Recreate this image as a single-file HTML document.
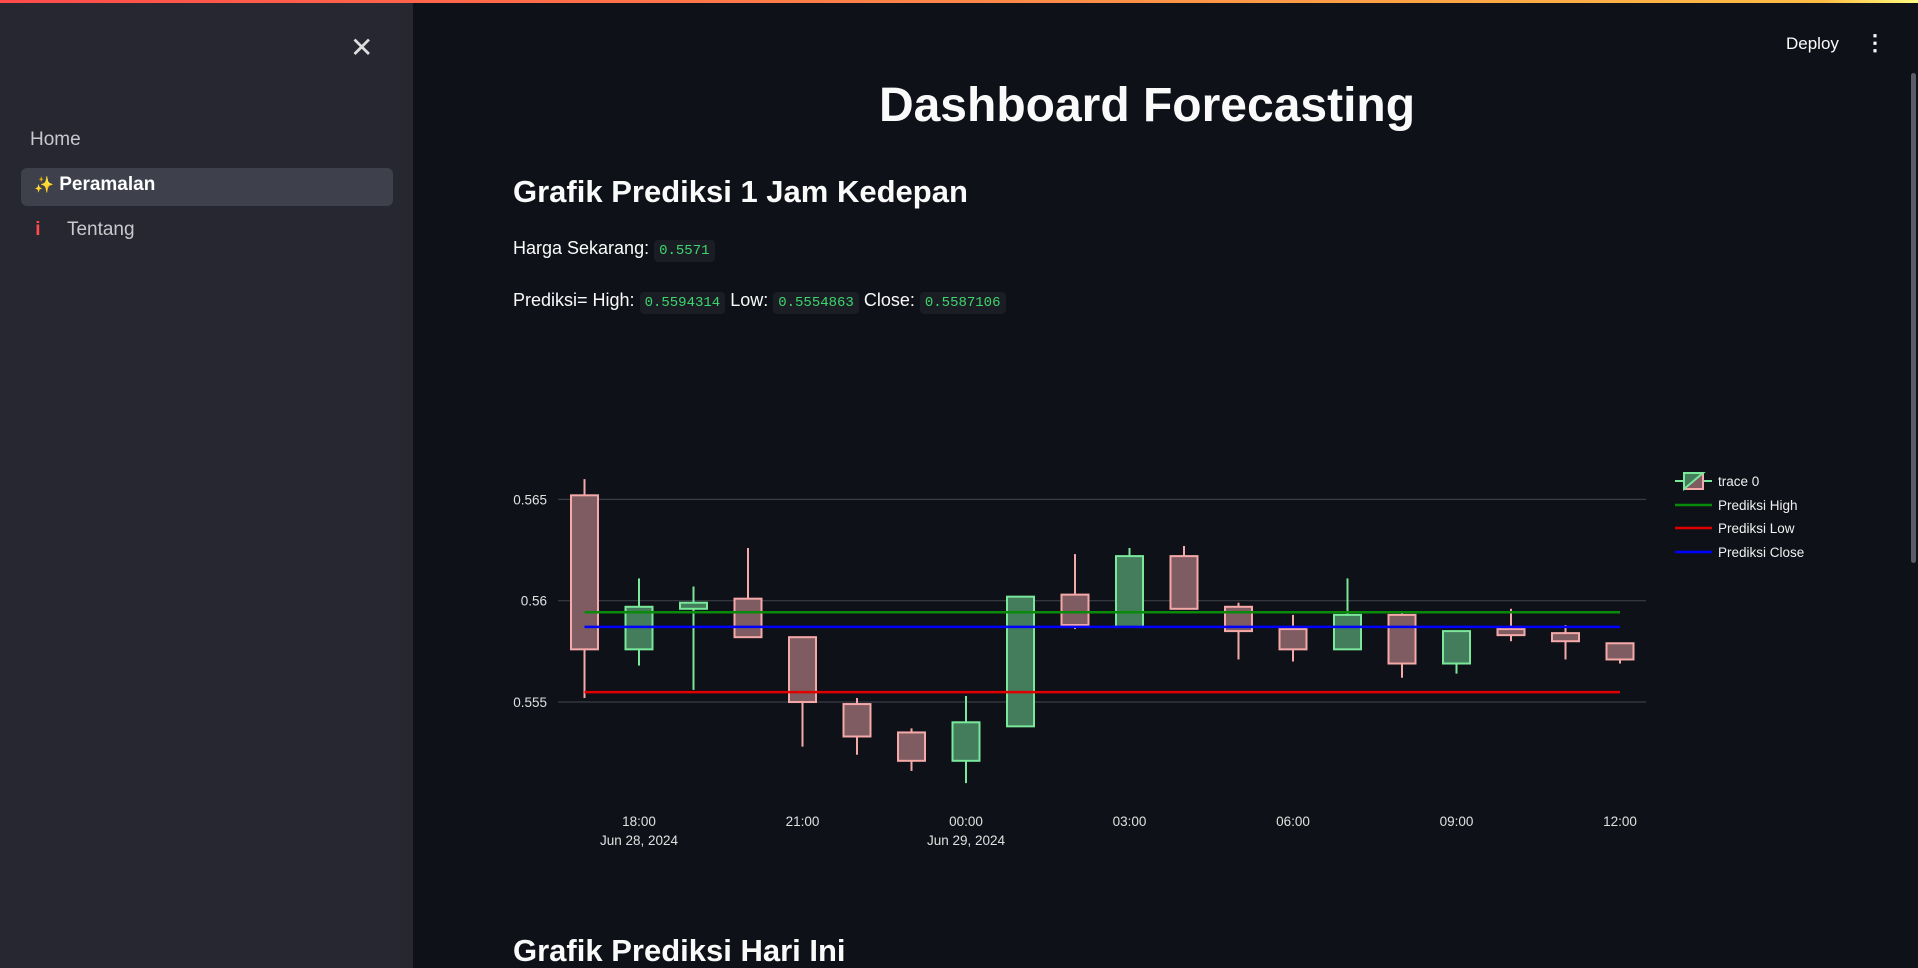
<!DOCTYPE html>
<html style="overflow:hidden;width:1918px;height:968px"><head><meta charset="utf-8"><style>
body{margin:0;width:1918px;height:968px;background:#0e1117;overflow:hidden;font-family:"Liberation Sans",sans-serif;color:#fafafa;position:relative}
#topbar{position:absolute;left:0;top:0;width:1918px;height:3px;background:linear-gradient(90deg,#ff4b4b,#ffbd45 95%,#fffd80)}
#sidebar{position:absolute;left:0;top:3px;width:413px;height:965px;background:#262730}
.nav{position:absolute;left:30px;font-size:19px;color:#c8c9cf}
#active{position:absolute;left:21px;top:165px;width:372px;height:38px;background:#3e404b;border-radius:6px}
.txt{position:absolute;white-space:nowrap}
code{font-family:"Liberation Mono",monospace;font-size:14px;color:#3dd56d;background:#1b1d25;padding:3px 5px;border-radius:4px}
#scroll{position:absolute;left:1911px;top:73px;width:5px;height:490px;background:#5a5c66;border-radius:3px}
</style></head><body>
<div id="topbar"></div>
<div id="sidebar">
 <div class="txt" style="left:350px;top:28px;font-size:28px;color:#ddd">✕</div>
 <div class="nav" style="top:126px">Home</div>
 <div id="active"></div>
 <div class="nav" style="top:171px;left:34px;color:#fff;font-weight:bold"><span style="color:#ffd75e;font-size:16px">✨</span>&nbsp;Peramalan</div>
 <div class="nav" style="top:216px"><span style="color:#ff4b4b;font-weight:bold">&nbsp;i</span>&nbsp;&nbsp;&nbsp;&nbsp;&nbsp;Tentang</div>
</div>
<div class="txt" style="left:1786px;top:34px;font-size:17px">Deploy</div>
<div class="txt" style="left:1864px;top:30px;font-size:22px;font-weight:bold">⋮</div>
<div id="scroll"></div>
<div class="txt" style="left:0;width:2294px;text-align:center;top:78px;font-size:48px;font-weight:bold">Dashboard Forecasting</div>
<div class="txt" style="left:513px;top:174px;font-size:31px;font-weight:bold">Grafik Prediksi 1 Jam Kedepan</div>
<div class="txt" style="left:513px;top:238px;font-size:18px">Harga Sekarang: <code>0.5571</code></div>
<div class="txt" style="left:513px;top:290px;font-size:18px">Prediksi= High: <code>0.5594314</code> Low: <code>0.5554863</code> Close: <code>0.5587106</code></div>
<div class="txt" style="left:513px;top:933px;font-size:31px;line-height:35px;font-weight:bold">Grafik Prediksi Hari Ini</div>
<svg id="chart" width="1918" height="968" style="position:absolute;left:0;top:0"></svg>
<script>
const hours=[17,18,19,20,21,22,23,24,25,26,27,28,29,30,31,32,33,34,35,36];
const open=[0.5652,0.5576,0.5596,0.5601,0.5582,0.5549,0.5535,0.5521,0.5538,0.5603,0.5587,0.5622,0.5597,0.5586,0.5576,0.5593,0.5569,0.5586,0.5584,0.5579];
const high=[0.5660,0.5611,0.5607,0.5626,0.5582,0.5552,0.5537,0.5553,0.5602,0.5623,0.5626,0.5627,0.5599,0.5593,0.5611,0.5594,0.5585,0.5596,0.5588,0.5579];
const low=[0.5552,0.5568,0.5556,0.5582,0.5528,0.5524,0.5516,0.5510,0.5538,0.5586,0.5587,0.5596,0.5571,0.5570,0.5576,0.5562,0.5564,0.5580,0.5571,0.5569];
const close=[0.5576,0.5597,0.5599,0.5582,0.5550,0.5533,0.5521,0.5540,0.5602,0.5588,0.5622,0.5596,0.5585,0.5576,0.5593,0.5569,0.5585,0.5583,0.5580,0.5571];
const predHigh=0.5594314, predLow=0.5554863, predClose=0.5587106;
const yTicks=[0.555,0.56,0.565];
const xTicks=[18,21,24,27,30,33,36];
const xTickLabels=["18:00","21:00","00:00","03:00","06:00","09:00","12:00"];
const xDateLabels=["Jun 28, 2024","","Jun 29, 2024","","","",""];
const legendNames=["trace 0","Prediksi High","Prediksi Low","Prediksi Close"];
const svg=document.getElementById('chart');const NS='http://www.w3.org/2000/svg';
const X=h=>639+(h-18)*54.5;
const Y=v=>600.7-(v-0.56)*20267;
function mk(t,a,txt){const e=document.createElementNS(NS,t);for(const k in a)e.setAttribute(k,a[k]);if(txt!==undefined)e.textContent=txt;svg.appendChild(e);return e;}
yTicks.forEach((v,i)=>{
 const g=mk('line',{x1:558,x2:1646,y1:Y(v),y2:Y(v),stroke:'#3a3d45','stroke-width':1.2});
 
 
 const t=mk('text',{x:547,y:Y(v)+5,'text-anchor':'end',fill:'#e0e0e0','font-size':13.5,'font-family':'Liberation Sans'},String(v));
 
 
});
xTicks.forEach((h,i)=>{
 const t=mk('text',{x:X(h),y:826,'text-anchor':'middle',fill:'#e0e0e0','font-size':13.5,'font-family':'Liberation Sans'},xTickLabels[i]);
 
 
 if(xDateLabels[i]){const d=mk('text',{x:X(h),y:845,'text-anchor':'middle',fill:'#e0e0e0','font-size':13.5,'font-family':'Liberation Sans'},xDateLabels[i]);
 
 }
});
hours.forEach((h,i)=>{
 const up=close[i]>=open[i];const lc=up?'#7ae89a':'#f5a9a9';const fc=up?'#437d5c':'#7e5c61';
 const cx=X(h);
 const w=mk('line',{x1:cx,x2:cx,y1:Y(high[i]),y2:Y(low[i]),stroke:lc,'stroke-width':2});
 
 
 const top=Y(Math.max(open[i],close[i])),bot=Y(Math.min(open[i],close[i]));
 const b=mk('rect',{x:cx-13.5,y:top,width:27,height:Math.max(bot-top,1),fill:fc,stroke:lc,'stroke-width':2});
 
 
});
[[predHigh,'#0a8a0a','prediksi-high-line'],[predLow,'#e00000','prediksi-low-line'],[predClose,'#0000ff','prediksi-close-line']].forEach(p=>{
 const l=mk('line',{x1:X(hours[0]),x2:X(hours[hours.length-1]),y1:Y(p[0]),y2:Y(p[0]),stroke:p[1],'stroke-width':2.5});
 
 
});
const ly=[481,505,528,552];const lcol=[null,'#0a8a0a','#e00000','#0000ff'];
legendNames.forEach((n,i)=>{
 if(i===0){
  mk('line',{x1:1675,x2:1712,y1:ly[0],y2:ly[0],stroke:'#7ae89a','stroke-width':2});
  mk('rect',{x:1684,y:ly[0]-8,width:19,height:16,fill:'#7e5c61',stroke:'#f5a9a9','stroke-width':2});
  mk('polygon',{points:`1684,${ly[0]+8} 1684,${ly[0]-8} 1703,${ly[0]-8}`,fill:'#437d5c',stroke:'#7ae89a','stroke-width':2});
 } else {
  mk('line',{x1:1675,x2:1712,y1:ly[i],y2:ly[i],stroke:lcol[i],'stroke-width':2.5});
 }
 const t=mk('text',{x:1718,y:ly[i]+5,fill:'#f0f0f0','font-size':13.5,'font-family':'Liberation Sans'},n);
 
 
});
</script>
</body></html>
